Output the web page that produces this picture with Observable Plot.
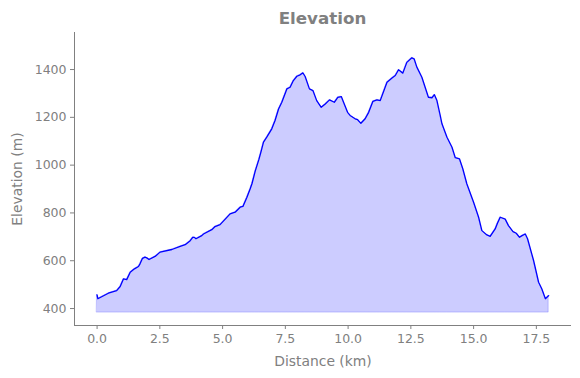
<!DOCTYPE html>
<html>
<head>
<meta charset="utf-8">
<script src="https://cdn.jsdelivr.net/npm/d3@7"></script>
<script src="https://cdn.jsdelivr.net/npm/@observablehq/plot@0.6"></script>
<style>
  html, body { margin: 0; padding: 0; background: white; }
  #wrap { width: 580px; height: 378px; font-family: "DejaVu Sans", sans-serif; }
  #title { position: relative; width: 580px; height: 32px; }
  #title span { position: absolute; left: 74px; width: 497px; top: 8px; text-align: center;
    font-size: 16.7px; font-weight: bold; color: #808080; line-height: 20px; }
  g[aria-label="x-axis label"] text, g[aria-label="y-axis label"] text { font-size: 13.9px; }
  g[aria-label="x-axis label"], g[aria-label="y-axis label"] { font-size: 13.9px; }
</style>
</head>
<body>
<div id="wrap">
  <div id="title"><span>Elevation</span></div>
  <div id="chart"></div>
</div>
<script>
const titleText = "Elevation";
const xLabel = "Distance (km)";
const yLabel = "Elevation (m)";

const distances = [
  0.00, 0.03, 0.45, 0.78, 0.92, 1.05, 1.18, 1.32, 1.49, 1.65, 1.71, 1.81, 1.91, 1.98, 2.07,
  2.31, 2.51, 2.98, 3.31, 3.51, 3.71, 3.81, 3.87, 3.94, 4.17, 4.24, 4.57, 4.70, 4.90, 5.30,
  5.50, 5.70, 5.81, 5.97, 6.10, 6.17, 6.30, 6.45, 6.54, 6.63, 6.76, 6.96, 7.09, 7.23, 7.36,
  7.56, 7.69, 7.82, 7.96, 8.09, 8.20, 8.29, 8.46, 8.60, 8.75, 8.93, 9.09, 9.26, 9.45, 9.59,
  9.73, 9.82, 9.98, 10.08, 10.28, 10.38, 10.51, 10.68, 10.82, 10.99, 11.15, 11.28, 11.55, 11.75, 11.88,
  12.01, 12.18, 12.34, 12.54, 12.63, 12.74, 12.94, 13.07, 13.20, 13.34, 13.44, 13.54, 13.67, 13.74, 13.94,
  14.14, 14.27, 14.44, 14.57, 14.73, 15.00, 15.20, 15.33, 15.53, 15.66, 15.86, 15.95, 16.06, 16.26, 16.39,
  16.57, 16.70, 16.83, 16.93, 17.06, 17.15, 17.39, 17.59, 17.72, 17.86, 17.99
];
const elevations = [
  457, 441, 464, 475, 492, 524, 521, 552, 566, 576, 587, 610, 615, 612, 605,
  618, 636, 647, 660, 667, 684, 698, 698, 692, 705, 712, 730, 743, 751, 796,
  803, 824, 827, 866, 901, 922, 975, 1025, 1060, 1096, 1117, 1152, 1187, 1235, 1263,
  1319, 1326, 1354, 1372, 1378, 1386, 1371, 1319, 1312, 1270, 1242, 1256, 1273, 1263, 1284,
  1287, 1263, 1221, 1208, 1194, 1190, 1175, 1194, 1221, 1267, 1273, 1270, 1347, 1365, 1375,
  1399, 1385, 1430, 1449, 1445, 1410, 1368, 1326, 1284, 1282, 1295, 1270, 1208, 1173, 1117,
  1075, 1031, 1026, 985, 922, 845, 782, 726, 708, 702, 733, 757, 782, 774, 747,
  722, 715, 698, 705, 712, 692, 601, 510, 482, 441, 454
];
const fillBase = 383;
const xTicks = [0, 2.5, 5, 7.5, 10, 12.5, 15, 17.5];
const yTicks = [400, 600, 800, 1000, 1200, 1400];
const xDomain = [-0.9, 18.9];
const yDomain = [329, 1555];

const data = distances.map((d, i) => ({ d, e: elevations[i] }));
document.querySelector("#title span").textContent = titleText;

const chart = Plot.plot({
  width: 580,
  height: 346,
  marginLeft: 74,
  marginRight: 9,
  marginTop: 0,
  marginBottom: 53,
  style: { fontFamily: "DejaVu Sans", fontSize: "12.5px", color: "#808080", background: "white", overflow: "visible" },
  x: { domain: xDomain },
  y: { domain: yDomain },
  marks: [
    Plot.areaY(data, { x: "d", y1: () => fillBase, y2: "e", fill: "#0000ff", fillOpacity: 0.2, stroke: "#0000ff", strokeOpacity: 0.2, strokeWidth: 1 }),
    Plot.lineY(data, { x: "d", y: "e", stroke: "#0000ff", strokeWidth: 1.3 }),
    Plot.ruleX([xDomain[0]], { stroke: "#808080", strokeWidth: 1 }),
    Plot.ruleY([yDomain[0]], { stroke: "#808080", strokeWidth: 1 }),
    Plot.axisX({ ticks: xTicks, tickFormat: d3.format(".1f"), tickSize: 4, tickPadding: 5,
      label: xLabel, labelAnchor: "center", labelArrow: "none", labelOffset: 40 }),
    Plot.axisY({ ticks: yTicks, tickFormat: d => String(d), tickSize: 4, tickPadding: 4,
      label: yLabel, labelAnchor: "center", labelArrow: "none", labelOffset: 62 })
  ]
});
document.getElementById("chart").appendChild(chart);
</script>
</body>
</html>
